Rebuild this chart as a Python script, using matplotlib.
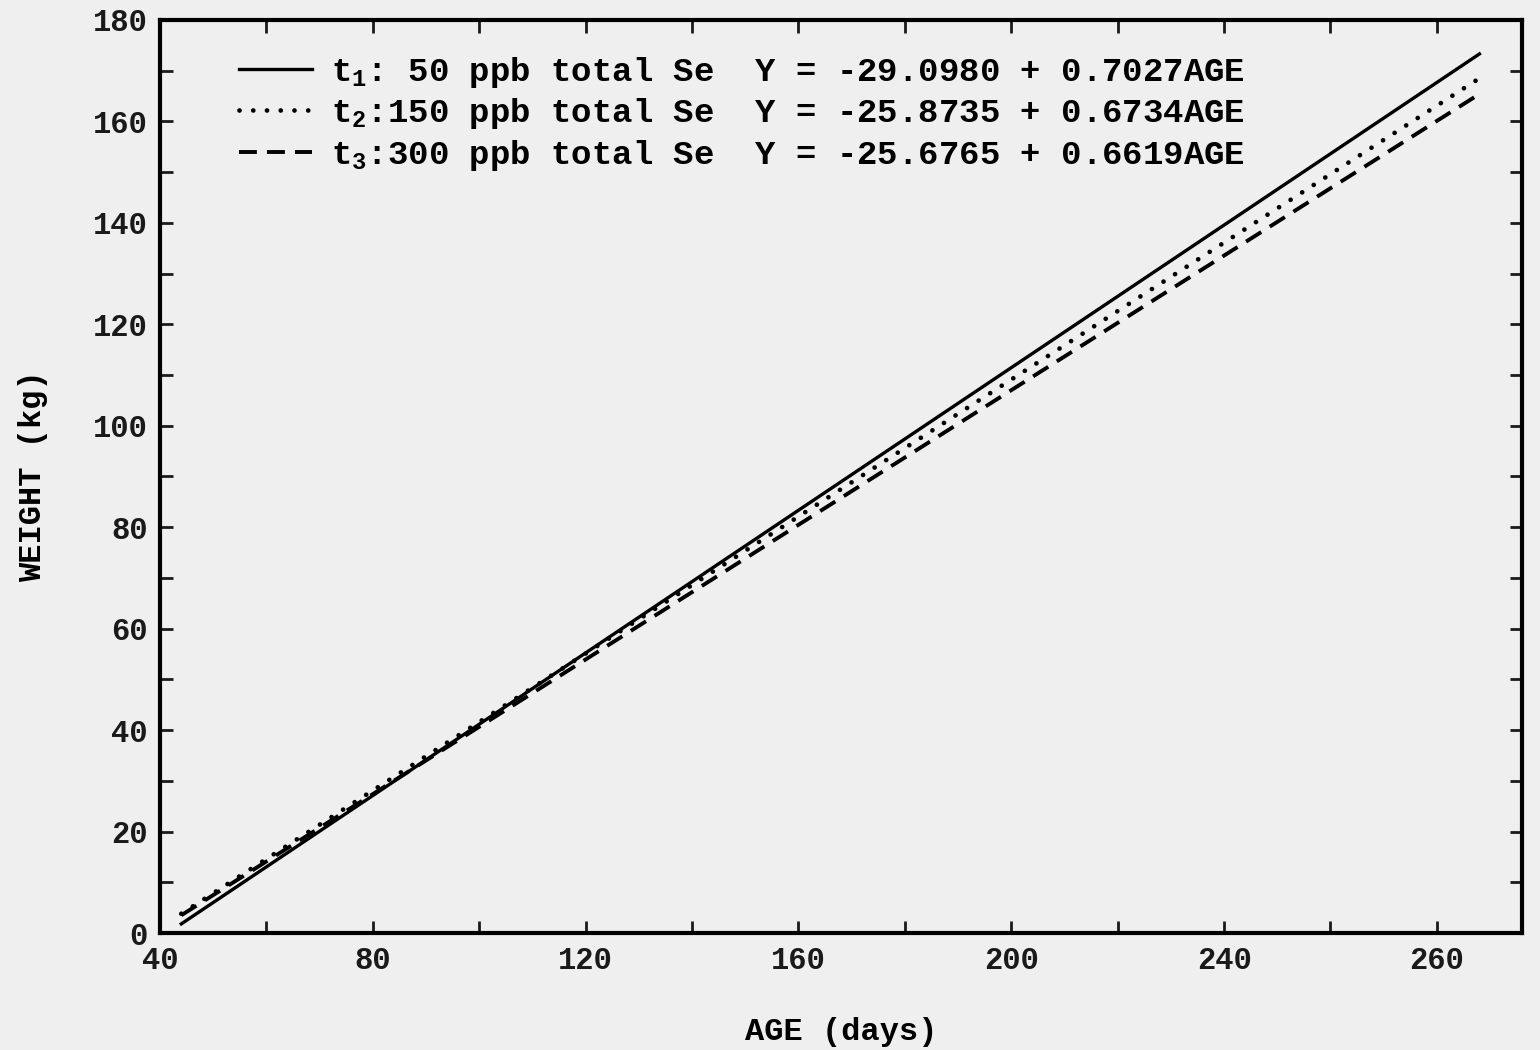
import matplotlib
matplotlib.use("Agg")
import matplotlib.pyplot as plt
from matplotlib.ticker import FixedLocator, MultipleLocator

# fuente tipo plotter (monoespaciada)
plt.rcParams['font.family'] = ['Liberation Mono', 'DejaVu Sans Mono']
plt.rcParams['font.weight'] = 'bold'
plt.rcParams['axes.labelweight'] = 'bold'
plt.rcParams['mathtext.fontset'] = 'custom'
plt.rcParams['mathtext.rm'] = 'Liberation Mono:bold'
plt.rcParams['mathtext.it'] = 'Liberation Mono:bold'

# datos (extremos de cada recta de regresion)
edad = [44, 288]
peso_t1 = [1.8, 173.3]
peso_t2 = [3.8, 168.5]
peso_t3 = [3.5, 165.4]

etiquetas = [
    "t$_1$: 50 ppb total Se  Y = -29.0980 + 0.7027AGE",
    "t$_2$:150 ppb total Se  Y = -25.8735 + 0.6734AGE",
    "t$_3$:300 ppb total Se  Y = -25.6765 + 0.6619AGE",
]

x_mayores = [40, 80, 120, 160, 200, 240, 280]
x_etiquetas = ['40', '80', '120', '160', '200', '240', '260']
x_menores = [60, 100, 140, 180, 220, 260]

papel = '#efefef'
fig = plt.figure(figsize=(15.4, 10.5), dpi=100, facecolor=papel)
ax = fig.add_axes([0.1039, 0.1114, 0.8844, 0.8696], facecolor=papel)

ax.plot(edad, peso_t1, color='black', lw=2.4, label=etiquetas[0])
ax.plot(edad, peso_t2, color='black', lw=3.4, linestyle=(0, (0.01, 2.9)),
        dash_capstyle='round', label=etiquetas[1])
ax.plot(edad, peso_t3, color='black', lw=2.8, linestyle=(0, (4.6, 2.6)),
        label=etiquetas[2])

ax.set_xlim(40, 296)
ax.set_ylim(0, 180)

ax.xaxis.set_major_locator(FixedLocator(x_mayores))
ax.set_xticklabels(x_etiquetas)
ax.xaxis.set_minor_locator(FixedLocator(x_menores))
ax.yaxis.set_major_locator(MultipleLocator(20))
ax.yaxis.set_minor_locator(MultipleLocator(10))

ax.tick_params(which='both', direction='in', length=9, width=2,
               top=True, right=True, labelsize=22, pad=9, colors='#1a1a1a')
for s in ax.spines.values():
    s.set_linewidth(3)

ax.set_xlabel("AGE (days)", fontsize=23, labelpad=30)
ax.set_ylabel("WEIGHT (kg)", fontsize=23, labelpad=32)

leg = ax.legend(loc='upper left', frameon=False, fontsize=24.5,
                handlelength=2.15, handletextpad=0.55, labelspacing=0.2,
                borderaxespad=0.0, bbox_to_anchor=(0.048, 0.977))

fig.savefig("out.png", dpi=100, facecolor=papel)
